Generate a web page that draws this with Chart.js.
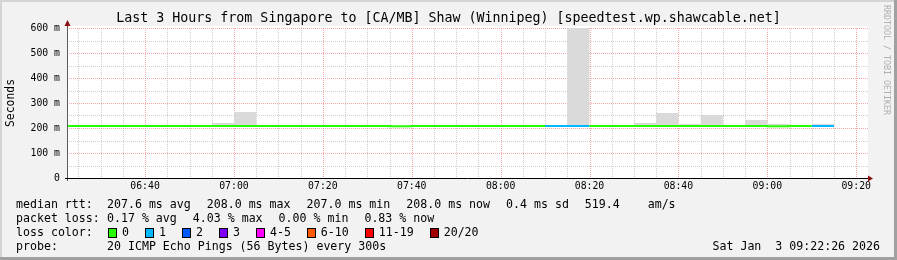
<!DOCTYPE html>
<html>
<head>
<meta charset="utf-8">
<script src="https://cdn.jsdelivr.net/npm/chart.js@4.4.1/dist/chart.umd.min.js"></script>
<style>
  html, body { margin: 0; padding: 0; background: #f2f2f2; }
  #wrap { width: 897px; height: 260px; }
</style>
</head>
<body>
<div id="wrap"><canvas id="smoke" width="897" height="260"></canvas></div>
<script>
// 5 minute bins (start time of each bin)
const binTimes = ['06:20', '06:25', '06:30', '06:35', '06:40', '06:45', '06:50', '06:55',
  '07:00', '07:05', '07:10', '07:15', '07:20', '07:25', '07:30', '07:35', '07:40', '07:45',
  '07:50', '07:55', '08:00', '08:05', '08:10', '08:15', '08:20', '08:25', '08:30', '08:35',
  '08:40', '08:45', '08:50', '08:55', '09:00', '09:05', '09:10'];
// median rtt in ms
const medianRtt = [208, 208, 208, 208, 208, 208, 208, 208,
  208, 208, 208, 208, 208, 208, 208, 207, 208, 208,
  208, 208, 208, 208, 208, 208, 208, 208, 208, 208,
  208, 208, 208, 208, 207, 208, 208];
// lost pings out of 20
const lossCount = [0, 0, 0, 0, 0, 0, 0, 0,
  0, 0, 0, 0, 0, 0, 0, 0, 0, 0,
  0, 0, 0, 0, 1, 1, 0, 0, 0, 0,
  0, 0, 0, 0, 0, 0, 1];
// smoke: min and max ping in ms
const smokeMin = [206, 206, 206, 206, 206, 206, 206, 206,
  206, 206, 206, 206, 206, 206, 206, 206, 206, 206,
  206, 206, 206, 206, 206, 206, 206, 206, 206, 206,
  206, 206, 206, 206, 206, 206, 206];
const smokeMax = [209, 209, 209, 209, 209, 209, 209, 220,
  264, 209, 209, 209, 209, 209, 209, 209, 209, 209,
  209, 209, 209, 209, 209, 680, 209, 209, 220, 260,
  216, 252, 212, 232, 216, 209, 216];

const yTicks = [0, 100, 200, 300, 400, 500, 600];
const lossLabels = ['0', '1', '2', '3', '4-5', '6-10', '11-19', '20/20'];
const lossColors = ['#26ff00', '#00b8ff', '#0059ff', '#7e00ff', '#ff00ff', '#ff5a00', '#ff0000', '#a10000'];

const titleText = 'Last 3 Hours from Singapore to [CA/MB] Shaw (Winnipeg) [speedtest.wp.shawcable.net]';
const rttStats = ['207.6 ms avg', '208.0 ms max', '207.0 ms min', '208.0 ms now', '0.4 ms sd', '519.4    am/s'];
const lossStats = ['0.17 % avg', '4.03 % max', '0.00 % min', '0.83 % now'];
const probeText = '20 ICMP Echo Pings (56 Bytes) every 300s';
const stampText = 'Sat Jan  3 09:22:26 2026';

const viewStart = 6 * 60 + 22 + 26 / 60;  // 06:22:26
const viewEnd = viewStart + 180;

function toMin(t) {
  const p = t.split(':');
  return +p[0] * 60 + +p[1];
}
function fmt(m) {
  const h = Math.floor(m / 60), mm = Math.round(m % 60);
  return String(h).padStart(2, '0') + ':' + String(mm).padStart(2, '0');
}
function steps(vals) {
  const pts = binTimes.map((t, i) => ({ x: toMin(t), y: vals[i] }));
  pts.push({ x: toMin(binTimes[binTimes.length - 1]) + 5, y: vals[vals.length - 1] });
  return pts;
}
function lossColor(n) {
  if (n <= 3) return lossColors[n];
  if (n <= 5) return lossColors[4];
  if (n <= 10) return lossColors[5];
  if (n <= 19) return lossColors[6];
  return lossColors[7];
}

const mono = 'DejaVu Sans Mono';
const majorGrid = 'rgba(240,110,110,0.6)';
const minorGrid = 'rgba(160,160,160,0.5)';

const frame = {
  id: 'frame',
  beforeDraw(chart) {
    const c = chart.ctx, a = chart.chartArea;
    c.save();
    c.fillStyle = '#f2f2f2';
    c.fillRect(0, 0, chart.width, chart.height);
    c.fillStyle = '#ffffff';
    c.fillRect(a.left, a.top - 2, a.right - a.left + 1, a.bottom - a.top + 2);
    c.restore();
  },
  // dotted rrdtool-style grid from the scale ticks
  beforeDatasetsDraw(chart) {
    const c = chart.ctx, a = chart.chartArea;
    const xs = chart.scales.x, ys = chart.scales.y;
    c.save();
    c.lineWidth = 1;
    c.setLineDash([1, 1]);
    xs.ticks.forEach(t => {
      const px = Math.round(xs.getPixelForValue(t.value)) + 0.5;
      c.strokeStyle = t.value % 20 === 0 ? majorGrid : minorGrid;
      c.beginPath();
      c.moveTo(px, a.top);
      c.lineTo(px, a.bottom);
      c.stroke();
    });
    ys.ticks.forEach(t => {
      if (t.value === 0) return;
      const py = Math.round(ys.getPixelForValue(t.value)) + 0.5;
      c.strokeStyle = yTicks.includes(t.value) ? majorGrid : minorGrid;
      c.beginPath();
      c.moveTo(a.left, py);
      c.lineTo(a.right + 1, py);
      c.stroke();
    });
    c.restore();
  },
  afterDraw(chart) {
    const c = chart.ctx, a = chart.chartArea;
    c.save();
    // title
    c.font = '13.3px "' + mono + '"';
    c.fillStyle = '#000';
    c.textAlign = 'center';
    c.textBaseline = 'middle';
    c.fillText(titleText, chart.width / 2, 19);
    c.textAlign = 'left';

    // axes + arrows
    c.strokeStyle = '#5a5a5a';
    c.lineWidth = 1;
    c.beginPath();
    c.moveTo(a.left + 0.5, a.top - 6);
    c.lineTo(a.left + 0.5, a.bottom + 3);
    c.stroke();
    c.strokeStyle = '#000';
    c.beginPath();
    c.moveTo(a.left - 2, a.bottom + 0.5);
    c.lineTo(a.right + 3, a.bottom + 0.5);
    c.stroke();
    c.fillStyle = '#8b1010';
    c.beginPath();
    c.moveTo(a.left + 0.5, a.top - 8);
    c.lineTo(a.left - 2.5, a.top - 2);
    c.lineTo(a.left + 3.5, a.top - 2);
    c.closePath();
    c.fill();
    c.beginPath();
    c.moveTo(a.right + 6, a.bottom + 0.5);
    c.lineTo(a.right + 1, a.bottom - 2.5);
    c.lineTo(a.right + 1, a.bottom + 3.5);
    c.closePath();
    c.fill();

    // watermark
    c.save();
    c.translate(884, 5);
    c.rotate(Math.PI / 2);
    c.font = '8.3px "' + mono + '"';
    c.fillStyle = '#b0b0b0';
    c.textBaseline = 'alphabetic';
    c.fillText('RRDTOOL / TOBI OETIKER', 0, 0);
    c.restore();

    // legend, rrdtool style: items separated by a fixed gap
    c.font = '11.6px "' + mono + '"';
    c.fillStyle = '#000';
    c.textBaseline = 'middle';
    const gap = 16;
    const row = (label, items, y) => {
      c.fillText(label, 16, y);
      let x = 107;
      items.forEach(s => {
        c.fillText(s, x, y);
        x += c.measureText(s).width + gap;
      });
    };
    row('median rtt:', rttStats, 204.5);
    row('packet loss:', lossStats, 218.5);
    row('probe:', [probeText], 246.5);
    c.fillText('loss color:', 16, 232.5);
    c.textAlign = 'right';
    c.fillText(stampText, 880, 246.5);
    c.textAlign = 'left';
    let x = 108;
    lossLabels.forEach((lab, i) => {
      const bx = Math.round(x) + 0.5;
      c.fillStyle = lossColors[i];
      c.fillRect(bx, 228.5, 8, 9);
      c.strokeStyle = '#000';
      c.strokeRect(bx, 228.5, 8, 9);
      c.fillStyle = '#000';
      c.fillText(lab, x + 14, 232.5);
      x += 14 + c.measureText(lab).width + gap;
    });

    // outer frame
    c.fillStyle = '#d4d4d4';
    c.fillRect(0, 0, chart.width, 2);
    c.fillRect(0, 0, 2, chart.height);
    c.fillStyle = '#a0a0a0';
    c.fillRect(0, chart.height - 3, chart.width, 3);
    c.fillRect(chart.width - 3, 0, 3, chart.height);
    c.restore();
  }
};

const smokeChart = new Chart(document.getElementById('smoke'), {
  type: 'line',
  data: {
    datasets: [{
      label: 'median',
      order: 0,
      data: steps(medianRtt),
      stepped: 'before',
      borderWidth: 2,
      pointRadius: 0,
      borderColor: lossColors[0],
      segment: {
        borderColor: ctx => lossColor(lossCount[Math.min(ctx.p0DataIndex, lossCount.length - 1)])
      },
      fill: false
    }, {
      label: 'min',
      order: 2,
      data: steps(smokeMin),
      stepped: 'before',
      borderWidth: 0,
      pointRadius: 0,
      fill: false
    }, {
      label: 'smoke',
      order: 1,
      data: steps(smokeMax),
      stepped: 'before',
      borderWidth: 0,
      pointRadius: 0,
      backgroundColor: '#dadada',
      fill: 1
    }]
  },
  options: {
    responsive: false,
    devicePixelRatio: 1,
    animation: false,
    events: [],
    layout: { padding: { left: 0, top: 28, right: 30, bottom: 0 } },
    plugins: {
      legend: { display: false },
      tooltip: { enabled: false },
      title: { display: false }
    },
    scales: {
      x: {
        type: 'linear',
        min: viewStart,
        max: viewEnd,
        afterFit: s => { s.height = 82; },
        afterBuildTicks: s => {
          const t = [];
          for (let m = Math.ceil(viewStart / 5) * 5; m <= viewEnd; m += 5) t.push({ value: m });
          s.ticks = t;
        },
        grid: { display: false, drawTicks: false },
        border: { display: false },
        ticks: {
          autoSkip: false,
          maxRotation: 0,
          padding: 3,
          color: '#000',
          font: { family: mono, size: 9.8 },
          callback: v => (v % 20 === 0 ? fmt(v) : '')
        }
      },
      y: {
        min: 0,
        max: 600,
        afterFit: s => { s.width = 67; },
        title: {
          display: true,
          text: 'Seconds',
          color: '#000',
          font: { family: mono, size: 11.4 },
          padding: { top: 4, bottom: 0 }
        },
        grid: { display: false, drawTicks: false },
        border: { display: false },
        ticks: {
          stepSize: 50,
          autoSkip: false,
          padding: 7,
          color: '#000',
          font: { family: mono, size: 9.8 },
          callback: v => (v === 0 ? '0' : yTicks.includes(v) ? v + ' m' : '')
        }
      }
    }
  },
  plugins: [frame]
});
</script>
</body>
</html>
